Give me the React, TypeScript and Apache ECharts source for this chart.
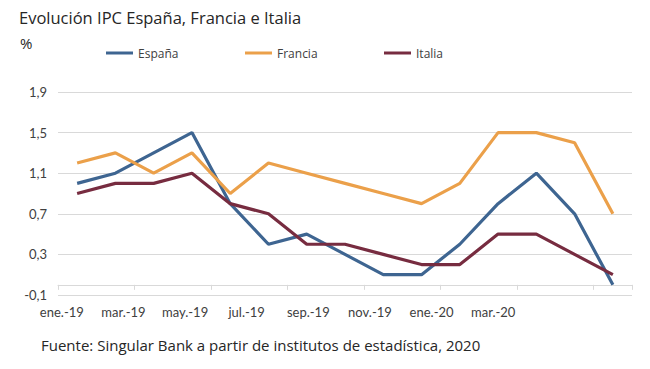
import React, { useEffect, useRef } from "react";
import * as echarts from "echarts";

const months = [
  "ene.-19", "feb.-19", "mar.-19", "abr.-19", "may.-19", "jun.-19", "jul.-19", "ago.-19",
  "sep.-19", "oct.-19", "nov.-19", "dic.-19", "ene.-20", "feb.-20", "mar.-20",
];
const tickLabels = ["ene.-19", "mar.-19", "may.-19", "jul.-19", "sep.-19", "nov.-19", "ene.-20", "mar.-20"];
const espana = [1.0, 1.1, 1.3, 1.5, 0.8, 0.4, 0.5, 0.3, 0.1, 0.1, 0.4, 0.8, 1.1, 0.7, 0.0];
const francia = [1.2, 1.3, 1.1, 1.3, 0.9, 1.2, 1.1, 1.0, 0.9, 0.8, 1.0, 1.5, 1.5, 1.4, 0.7];
const italia = [0.9, 1.0, 1.0, 1.1, 0.8, 0.7, 0.4, 0.4, 0.3, 0.2, 0.2, 0.5, 0.5, 0.3, 0.1];

const seriesNames = ["España", "Francia", "Italia"];
const colors = ["#3e6591", "#eba04a", "#772c40"];
const legendLefts = [106, 245, 384];

export default function App() {
  const ref = useRef<HTMLDivElement>(null);
  useEffect(() => {
    if (!ref.current) return;
    const chart = echarts.init(ref.current, null, { renderer: "svg" });
    const font = "'Open Sans', sans-serif";
    const dataSets = [espana, francia, italia];
    chart.setOption({
      animation: false,
      backgroundColor: "#ffffff",
      title: [
        {
          text: "Evolución IPC España, Francia e Italia",
          left: 19,
          top: 9,
          padding: 0,
          textStyle: { fontFamily: font, fontSize: 16.5, fontWeight: "normal", color: "#262626" },
        },
        {
          text: "%",
          left: 20,
          top: 35,
          padding: 0,
          textStyle: { fontFamily: font, fontSize: 15, fontWeight: "normal", color: "#262626" },
        },
        {
          text: "Fuente: Singular Bank a partir de institutos de estadística, 2020",
          left: 41,
          top: 337,
          padding: 0,
          textStyle: { fontFamily: font, fontSize: 15, fontWeight: "normal", color: "#262626" },
        },
      ],
      legend: seriesNames.map((n, i) => ({
        data: [n],
        left: legendLefts[i],
        top: 47,
        padding: 0,
        icon: "rect",
        itemWidth: 27,
        itemHeight: 3,
        textStyle: { fontFamily: font, fontSize: 12, color: "#404040" },
      })),
      grid: [
        { left: 58, right: 18, top: 92, bottom: 74 },
        { left: 31, right: 126, top: 92, bottom: 74 },
      ],
      xAxis: [
        {
          type: "category",
          gridIndex: 0,
          data: months,
          boundaryGap: true,
          axisLine: { lineStyle: { color: "#d9d9d9", width: 1 } },
          axisTick: { show: true, interval: 1, length: 5, lineStyle: { color: "#d9d9d9" } },
          axisLabel: { show: false },
        },
        {
          type: "category",
          gridIndex: 1,
          data: tickLabels,
          boundaryGap: true,
          axisLine: { show: false },
          axisTick: { show: false },
          axisLabel: { margin: 10, fontFamily: "Lato, sans-serif", fontSize: 13, color: "#404040", interval: 0 },
        },
      ],
      yAxis: [
        {
          type: "value",
          gridIndex: 0,
          min: -0.1,
          max: 1.9,
          interval: 0.4,
          axisLine: { show: false },
          axisTick: { show: false },
          splitLine: { lineStyle: { color: "#d9d9d9", width: 1 } },
          axisLabel: {
            margin: 11,
            fontFamily: "Lato, sans-serif",
            fontSize: 13,
            color: "#404040",
            formatter: (v: number) => v.toFixed(1).replace(".", ","),
          },
        },
        {
          type: "value",
          gridIndex: 1,
          show: false,
          min: -0.1,
          max: 1.9,
        },
      ],
      series: seriesNames.map((n, i) => ({
        name: n,
        type: "line",
        xAxisIndex: 0,
        yAxisIndex: 0,
        data: dataSets[i],
        symbol: "none",
        lineStyle: { color: colors[i], width: 3.2 },
        itemStyle: { color: colors[i] },
      })),
    });
    return () => chart.dispose();
  }, []);
  return <div ref={ref} style={{ width: 650, height: 369, position: "absolute", left: 0, top: 0 }} />;
}
